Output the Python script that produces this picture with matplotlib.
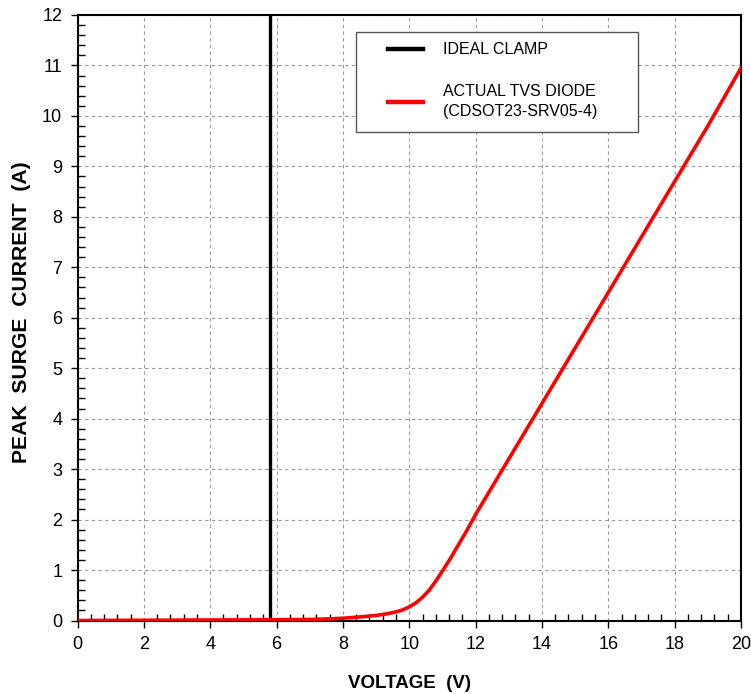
import matplotlib
matplotlib.use("Agg")
import matplotlib.pyplot as plt
from matplotlib.ticker import MultipleLocator
from matplotlib.patches import Rectangle

plt.rcParams['font.family'] = ['Liberation Sans', 'DejaVu Sans']

# ideal clamp: vertical line at clamp voltage
ideal_v = [5.8, 5.8]
ideal_i = [0.0, 12.0]

# actual TVS diode curve
tvs_v = [0, 2, 4, 6, 7, 7.5, 8, 8.5, 9, 9.3, 9.6, 9.8, 10, 10.2, 10.4, 10.6, 10.8, 11, 11.25, 11.5, 11.75, 12, 13, 14, 15, 16, 17, 18, 19, 20]
tvs_i = [0.0, 0.005, 0.01, 0.015, 0.02, 0.03, 0.045, 0.07, 0.1, 0.13, 0.17, 0.21, 0.27, 0.35, 0.46, 0.6, 0.78, 0.98, 1.24, 1.52, 1.8, 2.1, 3.2, 4.3, 5.4, 6.5, 7.6, 8.7, 9.8, 10.95]

fig = plt.figure(figsize=(7.51, 6.94), dpi=100)
ax = fig.add_axes([0.1032, 0.1059, 0.8835, 0.8725])

ax.plot(ideal_v, ideal_i, color='black', linewidth=2.4, label='IDEAL CLAMP', zorder=3)
ax.plot(tvs_v, tvs_i, color='#ff0000', linewidth=2.6, label='ACTUAL TVS DIODE\n(CDSOT23-SRV05-4)', zorder=4)

ax.set_xlim(0, 20)
ax.set_ylim(0, 12)
ax.xaxis.set_major_locator(MultipleLocator(2))
ax.xaxis.set_minor_locator(MultipleLocator(0.4))
ax.yaxis.set_major_locator(MultipleLocator(1))
ax.yaxis.set_minor_locator(MultipleLocator(0.2))
ax.tick_params(which='major', direction='out', length=5, width=1, labelsize=13, pad=6)
ax.tick_params(which='minor', direction='in', length=5, width=1)
ax.grid(True, which='major', color='#999999', linestyle=(0, (3, 3)), linewidth=0.8)
for s in ax.spines.values():
    s.set_linewidth(1.5)

ax.set_xlabel('VOLTAGE  (V)', fontsize=13.5, fontweight='bold', labelpad=16)
ax.set_ylabel('PEAK  SURGE  CURRENT  (A)', fontsize=15.2, fontweight='bold')
ax.yaxis.set_label_coords(-0.07, 0.51)

# legend box drawn separately so the entries can sit inset from its left edge
box = Rectangle((0.4197, 0.8068), 0.4251, 0.1652, transform=ax.transAxes,
                facecolor='white', edgecolor='#555555', linewidth=1.0, zorder=5)
ax.add_patch(box)
leg = ax.legend(loc='upper left', bbox_to_anchor=(0.468, 0.955), fontsize=11.5,
                frameon=False, handlelength=2.2, handletextpad=1.25, borderpad=0,
                labelspacing=1.7, borderaxespad=0)
leg.set_zorder(6)
for h in leg.get_lines():
    h.set_linewidth(3.2)
for t in leg.get_texts():
    t.set_linespacing(1.4)

fig.savefig('out.png', dpi=100)
